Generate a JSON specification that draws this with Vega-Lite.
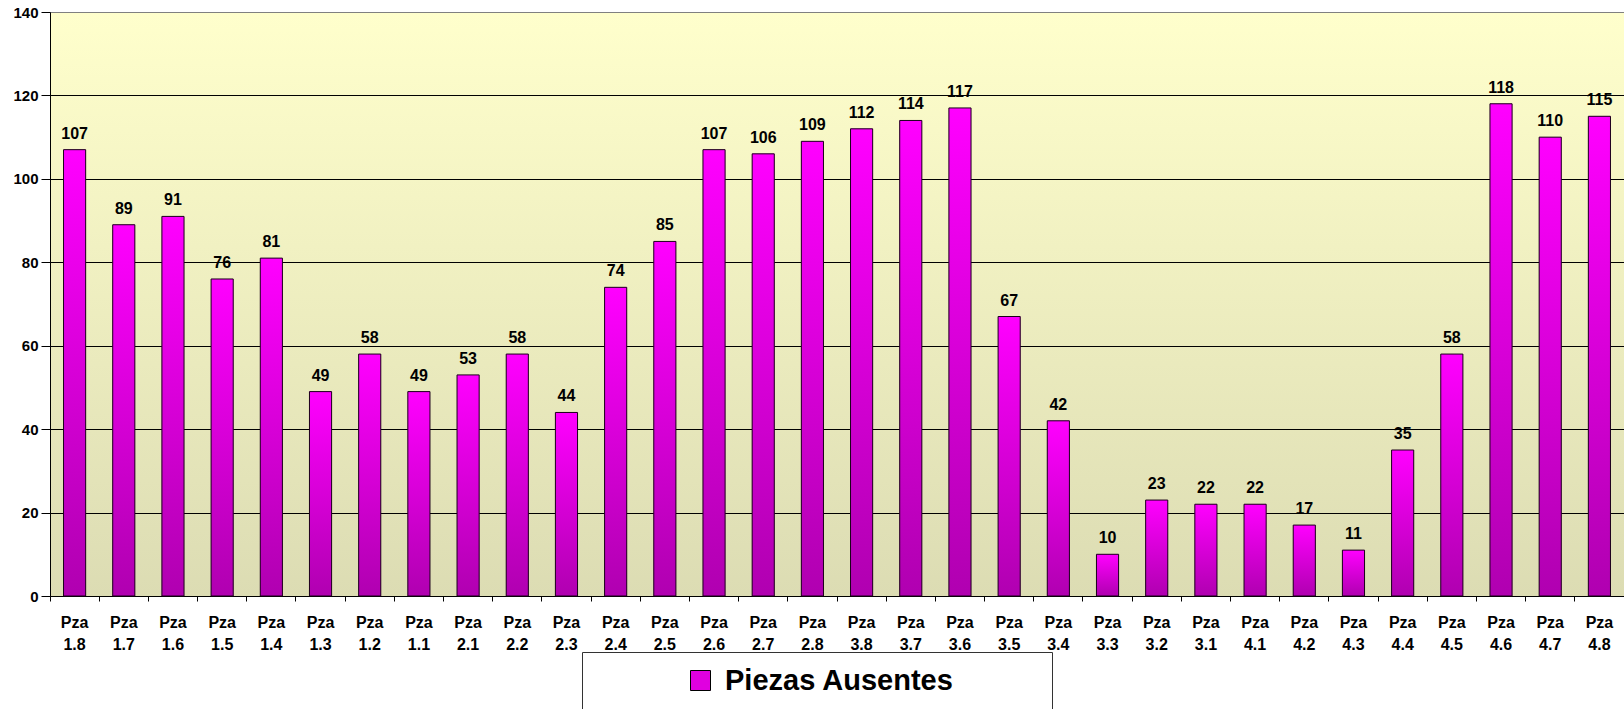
{
  "$schema": "https://vega.github.io/schema/vega-lite/v6.json",
  "autosize": "none",
  "padding": {"left": 50, "top": 12, "right": 0, "bottom": 113},
  "width": 1574,
  "height": 584,
  "background": "white",
  "config": {
    "font": "Liberation Sans",
    "view": {
      "stroke": "#808080",
      "strokeWidth": 1,
      "fill": {
        "gradient": "linear",
        "x1": 0, "y1": 0, "x2": 0, "y2": 1,
        "stops": [
          {"offset": 0, "color": "#FFFFCC"},
          {"offset": 1, "color": "#DCDCB3"}
        ]
      }
    }
  },
  "data": {
    "values": [
      {"pieza": "1.8", "ausentes": 107},
      {"pieza": "1.7", "ausentes": 89},
      {"pieza": "1.6", "ausentes": 91},
      {"pieza": "1.5", "ausentes": 76},
      {"pieza": "1.4", "ausentes": 81},
      {"pieza": "1.3", "ausentes": 49},
      {"pieza": "1.2", "ausentes": 58},
      {"pieza": "1.1", "ausentes": 49},
      {"pieza": "2.1", "ausentes": 53},
      {"pieza": "2.2", "ausentes": 58},
      {"pieza": "2.3", "ausentes": 44},
      {"pieza": "2.4", "ausentes": 74},
      {"pieza": "2.5", "ausentes": 85},
      {"pieza": "2.6", "ausentes": 107},
      {"pieza": "2.7", "ausentes": 106},
      {"pieza": "2.8", "ausentes": 109},
      {"pieza": "3.8", "ausentes": 112},
      {"pieza": "3.7", "ausentes": 114},
      {"pieza": "3.6", "ausentes": 117},
      {"pieza": "3.5", "ausentes": 67},
      {"pieza": "3.4", "ausentes": 42},
      {"pieza": "3.3", "ausentes": 10},
      {"pieza": "3.2", "ausentes": 23},
      {"pieza": "3.1", "ausentes": 22},
      {"pieza": "4.1", "ausentes": 22},
      {"pieza": "4.2", "ausentes": 17},
      {"pieza": "4.3", "ausentes": 11},
      {"pieza": "4.4", "ausentes": 35},
      {"pieza": "4.5", "ausentes": 58},
      {"pieza": "4.6", "ausentes": 118},
      {"pieza": "4.7", "ausentes": 110},
      {"pieza": "4.8", "ausentes": 115}
    ]
  },
  "encoding": {
    "x": {
      "field": "pieza",
      "type": "nominal",
      "sort": null,
      "scale": {"paddingInner": 0, "paddingOuter": 0},
      "axis": {
        "title": null,
        "labelAngle": 0,
        "bandPosition": 0,
        "labelExpr": "['Pza', datum.label]",
        "labelFont": "Liberation Sans",
        "labelFontWeight": "bold",
        "labelFontSize": 16,
        "labelColor": "#000000",
        "labelLineHeight": 22,
        "labelPadding": 13,
        "tickSize": 5,
        "tickColor": "#000000",
        "domainColor": "#000000",
        "grid": false
      }
    },
    "y": {
      "field": "ausentes",
      "type": "quantitative",
      "scale": {"domain": [0, 140], "nice": false},
      "axis": {
        "title": null,
        "values": [0, 20, 40, 60, 80, 100, 120, 140],
        "labelFont": "Liberation Sans",
        "labelFontWeight": "bold",
        "labelFontSize": 15,
        "labelColor": "#000000",
        "labelPadding": 3,
        "tickSize": 9,
        "tickColor": "#000000",
        "domainColor": "#000000",
        "grid": true,
        "gridColor": {"condition": {"test": "datum.value === 140", "value": "#808080"}, "value": "#000000"},
        "gridOpacity": 1,
        "gridWidth": 1
      }
    }
  },
  "layer": [
    {
      "mark": {"type": "bar", "width": {"band": 0.45}},
      "encoding": {
        "color": {
          "datum": "Piezas Ausentes",
          "type": "nominal",
          "scale": {"range": ["#E000E0"]},
          "legend": {
            "orient": "none",
            "legendX": 532,
            "legendY": 640,
            "title": "\u2800\u2800\u2800\u2800",
            "titleOrient": "left",
            "titleFont": "DejaVu Sans",
            "titleFontSize": 27,
            "titleFontWeight": "bold",
            "titlePadding": 5,
            "padding": 14,
            "strokeColor": "#333333",
            "fillColor": "#FFFFFF",
            "symbolType": "square",
            "symbolSize": 400,
            "symbolStrokeColor": "#000000",
            "symbolStrokeWidth": 1,
            "symbolOpacity": 1,
            "labelFont": "Liberation Sans",
            "labelFontWeight": "bold",
            "labelFontSize": 29,
            "labelColor": "#000000",
            "labelOffset": 10,
            "labelLimit": 1000,
            "labelExpr": "datum.label + '\u2800\u2800\u2800\u2800'"
          }
        }
      }
    },
    {
      "mark": {
        "type": "bar",
        "width": {"band": 0.45},
        "stroke": "#1A001A",
        "strokeWidth": 1,
        "fill": {
          "gradient": "linear",
          "x1": 0, "y1": 0, "x2": 0, "y2": 1,
          "stops": [
            {"offset": 0, "color": "#FF00FF"},
            {"offset": 1, "color": "#B000B0"}
          ]
        }
      }
    },
    {
      "mark": {
        "type": "text",
        "baseline": "alphabetic",
        "dy": -11,
        "font": "Liberation Sans",
        "fontWeight": "bold",
        "fontSize": 16,
        "color": "#000000"
      },
      "encoding": {
        "text": {"field": "ausentes", "type": "quantitative"}
      }
    }
  ]
}
